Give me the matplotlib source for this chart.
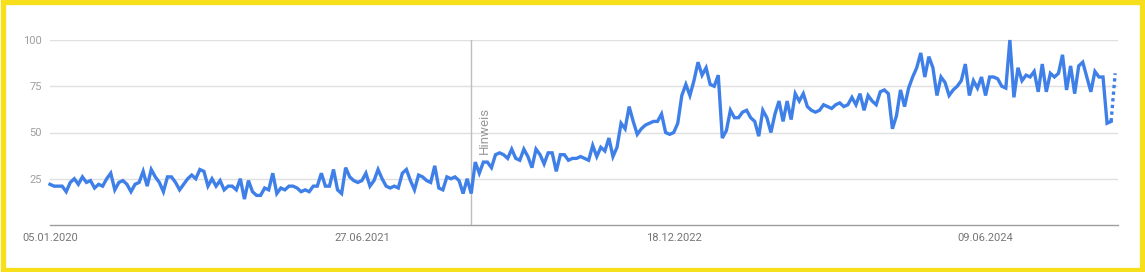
import numpy as np
import pandas as pd
import matplotlib
matplotlib.use('Agg')
import matplotlib.pyplot as plt
import matplotlib.dates as mdates
from matplotlib.patches import Rectangle

plt.rcParams['font.family'] = ['Roboto', 'DejaVu Sans']

# Wöchentliche Werte (Google-Trends-Index), ab 05.01.2020
werte_2020_2021 = [22, 21, 21, 21, 18, 23, 25, 22, 26, 23, 24, 20, 22, 21, 25, 28, 19, 23,
                   24, 22, 18, 22, 23, 29, 21, 30, 26, 23, 18, 26, 26, 23, 19, 22, 25, 27,
                   25, 30, 29, 21, 25, 21, 24, 19, 21, 21, 19, 25, 14, 24, 18, 16, 16]
werte_2021_2022 = [20, 19, 28, 17, 20, 19, 21, 21, 20, 18, 19, 18, 21, 21, 28, 21, 21, 30,
                   19, 17, 31, 26, 24, 23, 24, 28, 21, 24, 30, 25, 21, 20, 21, 20, 28, 30,
                   24, 19, 27, 26, 24, 23, 32, 20, 19, 26, 25, 26, 24, 17, 25, 17]
werte_2022_2023 = [34, 28, 34, 34, 31, 38, 39, 38, 36, 41, 36, 35, 41, 37, 31, 41, 38, 33,
                   39, 39, 29, 38, 38, 35, 36, 36, 37, 36, 35, 43, 37, 42, 40, 47, 37, 42,
                   55, 52, 64, 56, 49, 52, 54, 55, 56, 56, 60, 50, 49, 50, 55, 70, 76, 70, 78]
werte_2023_2024 = [88, 81, 85, 76, 75, 81, 47, 51, 62, 58, 58, 61, 62, 58, 56, 48, 62, 58,
                   50, 60, 67, 56, 67, 57, 71, 67, 71, 64, 62, 61, 62, 65, 64, 63, 65, 66,
                   64, 65, 69, 65, 71, 62, 70, 67, 65, 72, 73, 71, 52, 59, 73, 64, 74]
werte_2024_2025 = [80, 85, 93, 80, 91, 85, 70, 80, 77, 70, 73, 75, 78, 87, 70, 78, 74, 80,
                   70, 80, 80, 79, 75, 74, 100, 69, 85, 78, 81, 80, 83, 72, 87, 72, 82, 80,
                   82, 92, 73, 86, 71, 86, 88, 80, 72, 83, 80, 80, 55, 56]
teilwoche = 82  # letzte, unvollständige Woche (gepunktet)

x_labels = ['05.01.2020', '27.06.2021', '18.12.2022', '09.06.2024']
y_ticks = [25, 50, 75, 100]
hinweis_datum = '2022-01-01'

werte = werte_2020_2021 + werte_2021_2022 + werte_2022_2023 + werte_2023_2024 + werte_2024_2025
datum = pd.date_range('2020-01-05', periods=len(werte) + 1, freq='7D')

blau = '#3f80e8'
W, H = 1145, 272
fig = plt.figure(figsize=(W / 100, H / 100), dpi=100)
ax = fig.add_axes([50 / W, (H - 225) / H, (1118 - 50) / W, (225 - 40) / H])

ax.plot(datum[:-1], werte, color=blau, lw=2.4, solid_joinstyle='miter', clip_on=False, zorder=3)
ax.plot(datum[-2:], [werte[-1], teilwoche], color=blau, lw=2.4, ls=(0, (1, 1)), clip_on=False, zorder=3)

ax.set_ylim(0, 100)
ax.set_xlim(datum[0], datum[0] + pd.Timedelta(days=263.7 * 7))
ax.set_yticks(y_ticks)
ax.set_yticklabels([str(t) for t in y_ticks], color='#9e9e9e', fontsize=8)
ax.set_xticks(pd.to_datetime(x_labels, format='%d.%m.%Y'))
ax.set_xticklabels(x_labels, color='#757575', fontsize=8)
ax.tick_params(length=0, pad=6)
ax.grid(axis='y', color='#e0e0e0', lw=1)
ax.set_axisbelow(True)
for s in ['top', 'right', 'left']:
    ax.spines[s].set_visible(False)
ax.spines['bottom'].set_color('#9e9e9e')
ax.spines['bottom'].set_linewidth(1)

# Hinweis-Linie (Änderung der Datenerfassung)
hx = pd.Timestamp(hinweis_datum)
ax.axvline(hx, color='#bdbdbd', lw=1, zorder=2)
ax.text(hx + pd.Timedelta(days=13), 51, 'Hinweis', rotation=90, color='#999999',
        fontsize=9.5, ha='left', va='center')

# gelber Rahmen
fig.patches.append(Rectangle((0.0022, 0.006), 0.9956, 0.986, transform=fig.transFigure,
                             fill=False, edgecolor='#f7e01b', lw=3.8))

fig.savefig('out.png', dpi=100, facecolor='white')
